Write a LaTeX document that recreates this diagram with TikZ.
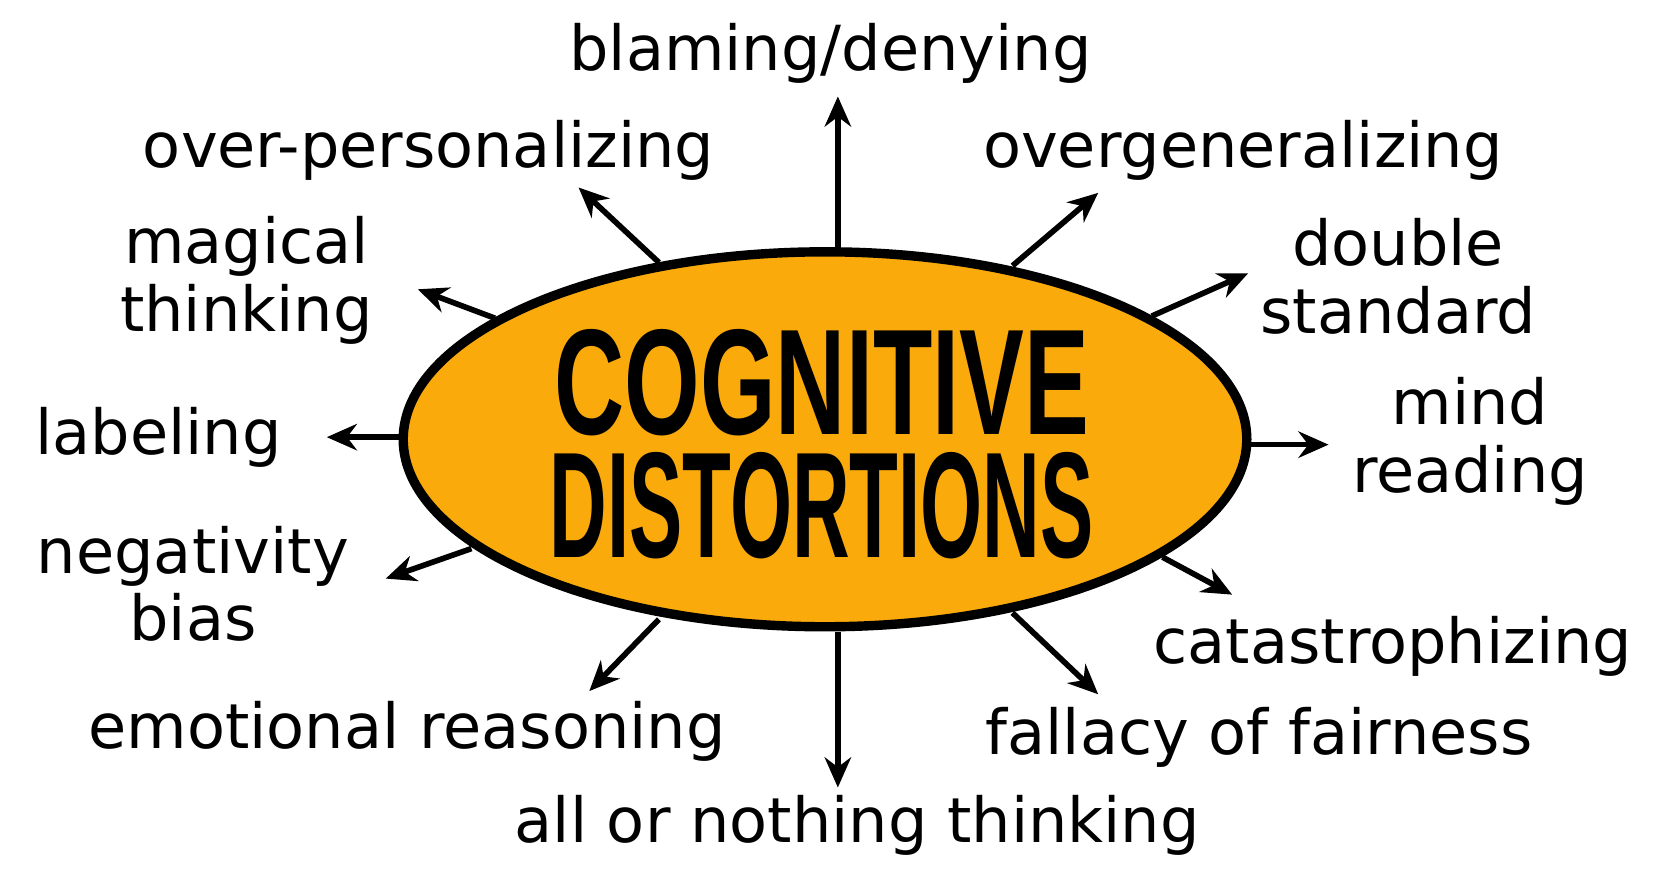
\documentclass[tikz,border=0pt]{standalone}
\usepackage{fontspec}
\newfontfamily\hand{DejaVu Sans}
\newfontfamily\caps{Liberation Sans}
\usetikzlibrary{shapes.geometric,arrows.meta}
\begin{document}
\begin{tikzpicture}[x=0.02cm,y=-0.02cm,
  lab/.style={font=\hand\fontsize{33}{36}\selectfont, align=center, inner sep=0},
  big/.style={font=\caps\bfseries\fontsize{80}{80}\selectfont, inner sep=0},
  arr/.style={-{Stealth[length=16pt,width=14pt]}, line width=3pt}]
\useasboundingbox (0,0) rectangle (1568,822);
\fill[white] (0,0) rectangle (1568,822);
\node[ellipse, draw, line width=5pt, fill={rgb,255:red,250;green,170;blue,10}, inner sep=0,
  minimum width=15.75cm, minimum height=7cm] (e) at (770,410) {};
\node[big, xscale=0.645] (t1) at (767,357) {COGNITIVE};
\node[big, xscale=0.53] (t2) at (767,472) {DISTORTIONS};
\foreach \n/\sx/\sy/\ex/\ey in {a/782/235/782/90, b/615/245/540/175, c/945/248/1025/180, d/462/297/390/270,
  f/1075/295/1165/255, g/378/408/305/408, h/1162/415/1240/415, i/440/512/360/540, j/1085/520/1150/555,
  k/615/578/550/645, l/945/572/1025/648, m/782/590/782/735}
  {\coordinate (s\n) at (\sx,\sy); \coordinate (e\n) at (\ex,\ey); \draw[arr] (s\n) -- (e\n);}
\node[lab] (la) at (775,50) {blaming/denying};
\node[lab] (lb) at (400,140) {over-personalizing};
\node[lab] (lc) at (1160,140) {overgeneralizing};
\node[lab] (ld) at (230,262) {magical\\thinking};
\node[lab] (lf) at (1305,258) {double\\standard};
\node[lab] (lg) at (148,408) {labeling};
\node[lab] (lh) at (1372,412) {mind\\reading};
\node[lab] (li) at (180,545) {negativity\\bias};
\node[lab] (lj) at (1300,603) {catastrophizing};
\node[lab] (lk) at (380,683) {emotional reasoning};
\node[lab] (ll) at (1175,688) {fallacy of fairness};
\node[lab] (lm) at (800,770) {all or nothing thinking};
\end{tikzpicture}
\end{document}
